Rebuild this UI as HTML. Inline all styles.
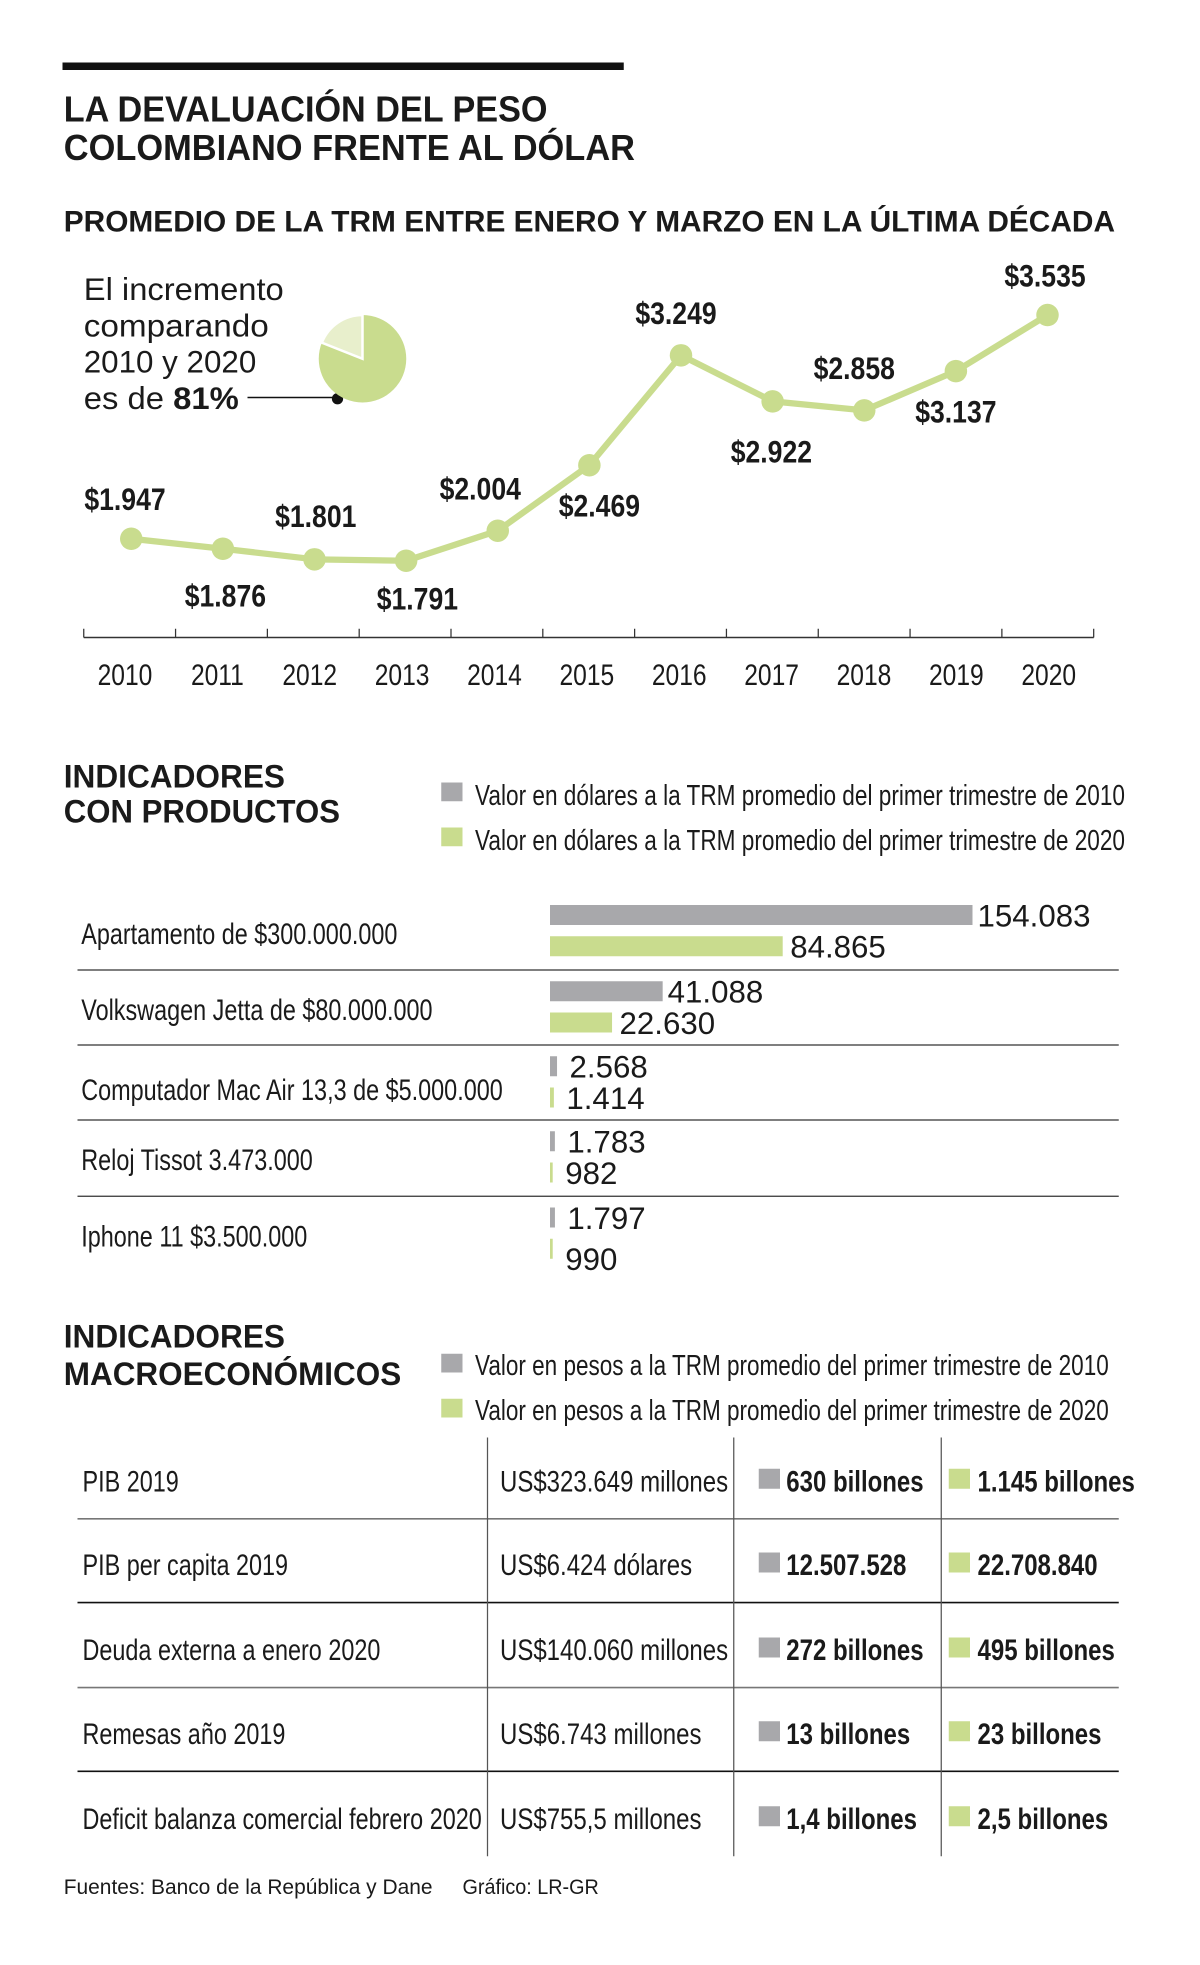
<!DOCTYPE html>
<html><head><meta charset="utf-8"><style>
html,body{margin:0;padding:0;background:#fff;}
svg{display:block;}
text{font-family:"Liberation Sans Narrow","Liberation Sans",sans-serif;fill:#1a1a1a;}
.b{font-weight:bold;}
</style></head><body>
<svg id="root" width="1200" height="1965" viewBox="0 0 960 1572" xmlns="http://www.w3.org/2000/svg">
<rect x="50" y="50" width="449" height="6" fill="#111"/>
<text class="b" x="51" y="97" font-size="29" textLength="387" lengthAdjust="spacingAndGlyphs">LA DEVALUACIÓN DEL PESO</text>
<text class="b" x="51" y="128" font-size="29" textLength="457" lengthAdjust="spacingAndGlyphs">COLOMBIANO FRENTE AL DÓLAR</text>
<text class="b" x="51" y="185" font-size="24" textLength="841" lengthAdjust="spacingAndGlyphs">PROMEDIO DE LA TRM ENTRE ENERO Y MARZO EN LA ÚLTIMA DÉCADA</text>

<g>
<text x="67" y="240" font-size="25" textLength="160" lengthAdjust="spacingAndGlyphs">El incremento</text>
<text x="67" y="269" font-size="25" textLength="148" lengthAdjust="spacingAndGlyphs">comparando</text>
<text x="67" y="298" font-size="25" textLength="138" lengthAdjust="spacingAndGlyphs">2010 y 2020</text>
<text x="67" y="327" font-size="25" textLength="124" lengthAdjust="spacingAndGlyphs">es de <tspan class="b">81%</tspan></text>
<line x1="198" y1="318" x2="270" y2="318" stroke="#111" stroke-width="1.2"/>
<circle cx="270" cy="319" r="4.5" fill="#111"/>
</g>
<g id="pie"></g>

<g id="line-chart"></g>

<g>
<text class="b" x="51" y="630" font-size="26" textLength="177" lengthAdjust="spacingAndGlyphs">INDICADORES</text>
<text class="b" x="51" y="658" font-size="26" textLength="221" lengthAdjust="spacingAndGlyphs">CON PRODUCTOS</text>
</g>
<g>
<rect x="353" y="626" width="17" height="15" fill="#a8a8ab"/>
<text x="380" y="644" font-size="23" textLength="520" lengthAdjust="spacingAndGlyphs">Valor en dólares a la TRM promedio del primer trimestre de 2010</text>
<rect x="353" y="662" width="17" height="15" fill="#c9dc8e"/>
<text x="380" y="680" font-size="23" textLength="520" lengthAdjust="spacingAndGlyphs">Valor en dólares a la TRM promedio del primer trimestre de 2020</text>
</g>
<g id="bar-chart"></g>

<g>
<text class="b" x="51" y="1078" font-size="26" textLength="177" lengthAdjust="spacingAndGlyphs">INDICADORES</text>
<text class="b" x="51" y="1108" font-size="26" textLength="270" lengthAdjust="spacingAndGlyphs">MACROECONÓMICOS</text>
</g>
<g>
<rect x="353" y="1083" width="17" height="15" fill="#a8a8ab"/>
<text x="380" y="1100" font-size="23" textLength="507" lengthAdjust="spacingAndGlyphs">Valor en pesos a la TRM promedio del primer trimestre de 2010</text>
<rect x="353" y="1119" width="17" height="15" fill="#c9dc8e"/>
<text x="380" y="1136" font-size="23" textLength="507" lengthAdjust="spacingAndGlyphs">Valor en pesos a la TRM promedio del primer trimestre de 2020</text>
</g>
<g id="macro-table"></g>

<text x="51" y="1515" font-size="17" textLength="295" lengthAdjust="spacingAndGlyphs">Fuentes: Banco de la República y Dane</text>
<text x="370" y="1515" font-size="17" textLength="109" lengthAdjust="spacingAndGlyphs">Gráfico: LR-GR</text>
</svg>
<script>
const years = ["2010","2011","2012","2013","2014","2015","2016","2017","2018","2019","2020"];
const trm = [1947,1876,1801,1791,2004,2469,3249,2922,2858,3137,3535];
const trmLabels = ["$1.947","$1.876","$1.801","$1.791","$2.004","$2.469","$3.249","$2.922","$2.858","$3.137","$3.535"];
const productNames = ["Apartamento de $300.000.000","Volkswagen Jetta de $80.000.000","Computador Mac Air 13,3 de $5.000.000","Reloj Tissot 3.473.000","Iphone 11 $3.500.000"];
const usd2010 = [154083,41088,2568,1783,1797];
const usd2020 = [84865,22630,1414,982,990];
const usd2010Labels = ["154.083","41.088","2.568","1.783","1.797"];
const usd2020Labels = ["84.865","22.630","1.414","982","990"];
const macroNames = ["PIB 2019","PIB per capita 2019","Deuda externa a enero 2020","Remesas año 2019","Deficit balanza comercial febrero 2020"];
const macroUsd = ["US$323.649 millones","US$6.424 dólares","US$140.060 millones","US$6.743 millones","US$755,5 millones"];
const macro2010 = ["630 billones","12.507.528","272 billones","13 billones","1,4 billones"];
const macro2020 = ["1.145 billones","22.708.840","495 billones","23 billones","2,5 billones"];
const pieShare = [81,19];

const NS="http://www.w3.org/2000/svg";
function mk(tag,attrs,parent,txt){const e=document.createElementNS(NS,tag);for(const k in attrs)e.setAttribute(k,attrs[k]);if(txt!==undefined)e.textContent=txt;parent.appendChild(e);return e;}
function condense(el,f){const w=el.getComputedTextLength();if(w>0){el.setAttribute('textLength',(w*f).toFixed(1));el.setAttribute('lengthAdjust','spacingAndGlyphs');}}
const GREEN="#c9dc8e", GRAY="#a8a8ab";

// pie
(function(){
 const g=document.getElementById('pie');const cx=290,cy=287,r=35;
 const a=pieShare[1]/100*2*Math.PI;
 const main=mk('circle',{cx:cx,cy:cy,r:r,fill:GREEN},g);
 
 
 const x=cx-r*Math.sin(a), y=cy-r*Math.cos(a);
 const w=mk('path',{d:`M${cx},${cy} L${cx},${cy-r} A${r},${r} 0 0 0 ${x},${y} Z`,fill:"#e8efcc",stroke:"#fff","stroke-width":2},g);
 
 
})();

// line chart
(function(){
 const g=document.getElementById('line-chart');
 const xs=i=>105+i*73.3;
 const ys=v=>431-(v-1947)*0.1127;
 const ax=mk('line',{x1:67,y1:510,x2:875,y2:510,stroke:"#333","stroke-width":1.2},g);
 
 
 for(let i=0;i<=11;i++){const t=mk('line',{x1:67+i*73.45,y1:503,x2:67+i*73.45,y2:510,stroke:"#333","stroke-width":1},g);
  
  }
 years.forEach((y,i)=>{const t=mk('text',{x:100+i*73.9,y:548,"font-size":24,"text-anchor":"middle"},g,y);
  
  
  condense(t,0.82);});
 const pts=trm.map((v,i)=>xs(i)+','+ys(v)).join(' ');
 const pl=mk('polyline',{points:pts,fill:"none",stroke:GREEN,"stroke-width":5,"stroke-linejoin":"round"},g);
 
 
 const off=[[-5,-31],[2,38],[1,-34],[9,31],[-14,-33],[8,33],[-4,-33],[-1,41],[-8,-33],[0,33],[-2,-31]];
 trm.forEach((v,i)=>{
  const c=mk('circle',{cx:xs(i),cy:ys(v),r:9,fill:GREEN},g);
  
  
  const t=mk('text',{class:'b',x:xs(i)+off[i][0],y:ys(v)+off[i][1]+8,"font-size":25,"text-anchor":"middle"},g,trmLabels[i]);
  
  
  condense(t,0.85);
 });
})();

// bar chart
(function(){
 const g=document.getElementById('bar-chart');
 const x0=440, sc=338/154083;
 const rowTop=[715,776,836,896,957];
 [776,836,896,957].forEach(y=>{const l=mk('line',{x1:62,y1:y,x2:895,y2:y,stroke:"#333","stroke-width":1},g);
  
  });
 productNames.forEach((n,i)=>{
  const top=rowTop[i]+9;
  const t=mk('text',{x:65,y:rowTop[i]+40+(i===2?4:0),"font-size":24},g,n);
  
  
  condense(t,0.78);
  const w1=Math.max(3,usd2010[i]*sc), w2=Math.max(2,usd2020[i]*sc);
  const gy=top, grY=top+25;
  const b1=mk('rect',{x:x0,y:gy,width:w1,height:16,fill:GRAY},g);
  
  
  const b2=mk('rect',{x:x0,y:grY,width:w2,height:16,fill:GREEN},g);
  
  
  const l1=mk('text',{x:x0+w1+(w1>20?4:10),y:gy+17,"font-size":25,fill:"#333"},g,usd2010Labels[i]);
  
  
  const l2=mk('text',{x:x0+w2+(w2>20?6:10),y:grY+17+(i===4?8:0),"font-size":25},g,usd2020Labels[i]);
  
  
 });
})();

// macro table
(function(){
 const g=document.getElementById('macro-table');
 [[1215,"#777"],[1282,"#111"],[1350,"#777"],[1417,"#111"]].forEach(([y,c])=>{const l=mk('line',{x1:62,y1:y,x2:895,y2:y,stroke:c,"stroke-width":1.3},g);
  
  });
 [390,587,753].forEach(x=>{const l=mk('line',{x1:x,y1:1150,x2:x,y2:1485,stroke:"#555","stroke-width":1},g);
  
  });
 const base=[1193,1260,1328,1395,1463];
 macroNames.forEach((n,i)=>{
  const y=base[i];
  let t=mk('text',{x:66,y:y,"font-size":24},g,n);
  
  
  condense(t,0.78);
  t=mk('text',{x:400,y:y,"font-size":24},g,macroUsd[i]);
  
  
  condense(t,0.8);
  let r=mk('rect',{x:607,y:y-18,width:17,height:16,fill:GRAY},g);
  
  
  t=mk('text',{class:'b',x:629,y:y,"font-size":24},g,macro2010[i]);
  
  
  condense(t,0.8);
  r=mk('rect',{x:759,y:y-18,width:17,height:16,fill:GREEN},g);
  
  
  t=mk('text',{class:'b',x:782,y:y,"font-size":24},g,macro2020[i]);
  
  
  condense(t,0.8);
 });
})();
</script>
</body></html>
